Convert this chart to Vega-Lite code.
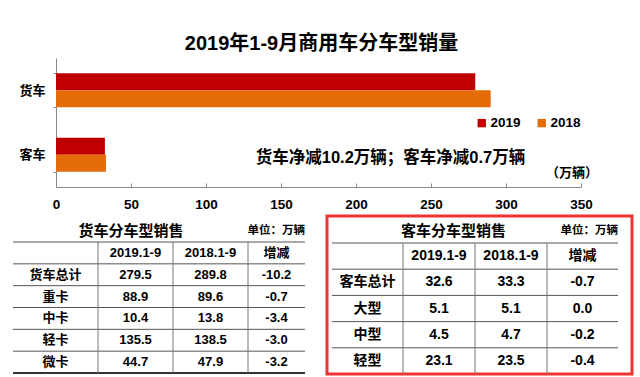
{
  "$schema": "https://vega.github.io/schema/vega-lite/v6.json",
  "background": "white",
  "padding": {"left": 0, "top": 34, "right": 0, "bottom": 0},
  "config": {"view": {"stroke": null}},
  "datasets": {
    "bars": [
      {"type": "货车", "year": "2019", "value": 279.5},
      {"type": "货车", "year": "2018", "value": 289.8},
      {"type": "客车", "year": "2019", "value": 32.6},
      {"type": "客车", "year": "2018", "value": 33.3}
    ],
    "leftCells": [
      {"r": 0, "c": 1, "t": "2019.1-9"}, {"r": 0, "c": 2, "t": "2018.1-9"}, {"r": 0, "c": 3, "t": "增减"},
      {"r": 1, "c": 0, "t": "货车总计"}, {"r": 1, "c": 1, "t": "279.5"}, {"r": 1, "c": 2, "t": "289.8"}, {"r": 1, "c": 3, "t": "-10.2"},
      {"r": 2, "c": 0, "t": "重卡"}, {"r": 2, "c": 1, "t": "88.9"}, {"r": 2, "c": 2, "t": "89.6"}, {"r": 2, "c": 3, "t": "-0.7"},
      {"r": 3, "c": 0, "t": "中卡"}, {"r": 3, "c": 1, "t": "10.4"}, {"r": 3, "c": 2, "t": "13.8"}, {"r": 3, "c": 3, "t": "-3.4"},
      {"r": 4, "c": 0, "t": "轻卡"}, {"r": 4, "c": 1, "t": "135.5"}, {"r": 4, "c": 2, "t": "138.5"}, {"r": 4, "c": 3, "t": "-3.0"},
      {"r": 5, "c": 0, "t": "微卡"}, {"r": 5, "c": 1, "t": "44.7"}, {"r": 5, "c": 2, "t": "47.9"}, {"r": 5, "c": 3, "t": "-3.2"}
    ],
    "rightCells": [
      {"r": 0, "c": 1, "t": "2019.1-9"}, {"r": 0, "c": 2, "t": "2018.1-9"}, {"r": 0, "c": 3, "t": "增减"},
      {"r": 1, "c": 0, "t": "客车总计"}, {"r": 1, "c": 1, "t": "32.6"}, {"r": 1, "c": 2, "t": "33.3"}, {"r": 1, "c": 3, "t": "-0.7"},
      {"r": 2, "c": 0, "t": "大型"}, {"r": 2, "c": 1, "t": "5.1"}, {"r": 2, "c": 2, "t": "5.1"}, {"r": 2, "c": 3, "t": "0.0"},
      {"r": 3, "c": 0, "t": "中型"}, {"r": 3, "c": 1, "t": "4.5"}, {"r": 3, "c": 2, "t": "4.7"}, {"r": 3, "c": 3, "t": "-0.2"},
      {"r": 4, "c": 0, "t": "轻型"}, {"r": 4, "c": 1, "t": "23.1"}, {"r": 4, "c": 2, "t": "23.5"}, {"r": 4, "c": 3, "t": "-0.4"}
    ],
    "leftRowLines": [{"b": -0.5}, {"b": 0.5}, {"b": 1.5}, {"b": 2.5}, {"b": 3.5}, {"b": 4.5}],
    "rightRowLines": [{"b": -0.5}, {"b": 0.5}, {"b": 1.5}, {"b": 2.5}, {"b": 3.5}],
    "colLines": [{"b": 0.5}, {"b": 1.5}, {"b": 2.5}]
  },
  "spacing": 3,
  "vconcat": [
    {
      "width": 525,
      "height": 129,
      "title": {"text": "2019年1-9月商用车分车型销量", "font": "Liberation Sans, Noto Sans CJK SC", "fontSize": 20, "fontWeight": "bold", "color": "#000", "anchor": "middle", "offset": -2, "dx": 3},
      "layer": [
        {
          "data": {"name": "bars"},
          "mark": {"type": "bar"},
          "encoding": {
            "y": {"field": "type", "type": "nominal", "sort": ["货车", "客车"],
              "scale": {"paddingInner": 0.47, "paddingOuter": 0.235},
              "axis": {"title": null, "labelFont": "Noto Sans CJK SC", "labelFontSize": 13, "labelFontWeight": "bold", "labelColor": "#000", "tickBand": "extent", "tickSize": 3, "tickColor": "#888", "domainColor": "#888", "labelPadding": 8, "minExtent": 56, "maxExtent": 56}},
            "yOffset": {"field": "year", "type": "nominal", "sort": ["2019", "2018"], "scale": {"paddingInner": 0, "paddingOuter": 0}},
            "x": {"field": "value", "type": "quantitative",
              "scale": {"domain": [0, 350], "nice": false},
              "axis": {"title": null, "values": [0, 50, 100, 150, 200, 250, 300, 350], "grid": false, "labelFont": "Liberation Sans", "labelFontSize": 13.5, "labelFontWeight": "bold", "labelColor": "#000", "tickSize": -4, "tickColor": "#888", "domainColor": "#888", "labelPadding": 14, "labelFlush": false, "minExtent": 24, "maxExtent": 24}},
            "color": {"field": "year", "type": "nominal",
              "scale": {"domain": ["2019", "2018"], "range": ["#C00000", "#E46C0A"]},
              "legend": {"orient": "none", "legendX": 419, "legendY": 58, "direction": "horizontal", "title": null, "symbolType": "square", "symbolSize": 70, "symbolStrokeWidth": 0, "labelFont": "Liberation Sans", "labelFontSize": 13.5, "labelFontWeight": "bold", "labelColor": "#000", "columnPadding": 14, "labelOffset": 2}}
          }
        },
        {
          "data": {"values": [{}]},
          "mark": {"type": "text", "font": "Liberation Sans, Noto Sans CJK SC", "fontSize": 16.5, "fontWeight": "bold", "color": "#000", "dy": 3},
          "encoding": {"x": {"datum": 223, "type": "quantitative"}, "y": {"datum": "客车", "type": "nominal"}, "text": {"value": "货车净减10.2万辆；客车净减0.7万辆"}}
        },
        {
          "data": {"values": [{}]},
          "mark": {"type": "text", "font": "Noto Sans CJK SC", "fontSize": 13, "fontWeight": "bold", "color": "#000", "dy": 18},
          "encoding": {"x": {"datum": 344, "type": "quantitative"}, "y": {"datum": "客车", "type": "nominal"}, "text": {"value": "（万辆）"}}
        }
      ]
    },
    {
      "spacing": 12,
      "bounds": "flush",
      "hconcat": [
        {
          "width": 259,
          "height": 158,
          "layer": [
            {
              "data": {"name": "leftCells"},
              "mark": {"type": "text", "font": "Liberation Sans, Noto Sans CJK SC", "fontSize": 13, "fontWeight": "bold", "color": "#000"},
              "encoding": {
                "x": {"field": "c", "type": "quantitative", "scale": {"domain": [-0.5, 0.5, 1.5, 2.5, 3.5], "range": [-43, 42, 117, 192, 249], "nice": false, "zero": false}, "axis": null},
                "y": {"field": "r", "type": "quantitative", "scale": {"domain": [-0.5, 5.5], "range": [26, 157], "nice": false, "zero": false}, "axis": null},
                "text": {"field": "t"}
              }
            },
            {
              "data": {"name": "leftRowLines"},
              "mark": {"type": "rule", "color": "#555", "strokeWidth": 1},
              "encoding": {"y": {"field": "b", "type": "quantitative"}, "x": {"datum": -0.5, "type": "quantitative"}, "x2": {"datum": 3.5}}
            },
            {
              "data": {"values": [{}]},
              "mark": {"type": "rule", "color": "#333", "strokeWidth": 2},
              "encoding": {"y": {"datum": 5.5, "type": "quantitative"}, "x": {"datum": -0.5, "type": "quantitative"}, "x2": {"datum": 3.5}}
            },
            {
              "data": {"name": "colLines"},
              "mark": {"type": "rule", "color": "#777", "strokeWidth": 1},
              "encoding": {"x": {"field": "b", "type": "quantitative"}, "y": {"datum": -0.5, "type": "quantitative"}, "y2": {"datum": 5.5}}
            },
            {
              "data": {"values": [{}]},
              "mark": {"type": "text", "font": "Noto Sans CJK SC", "fontSize": 15, "fontWeight": "bold", "color": "#000", "dy": 0},
              "encoding": {"x": {"datum": 0.94, "type": "quantitative"}, "y": {"datum": -1, "type": "quantitative"}, "text": {"value": "货车分车型销售"}}
            },
            {
              "data": {"values": [{}]},
              "mark": {"type": "text", "font": "Noto Sans CJK SC", "fontSize": 11.5, "fontWeight": "bold", "color": "#000", "align": "right", "dy": 0},
              "encoding": {"x": {"datum": 3.5, "type": "quantitative"}, "y": {"datum": -1, "type": "quantitative"}, "text": {"value": "单位：万辆"}}
            }
          ]
        },
        {
          "width": 305,
          "height": 158,
          "view": {"stroke": "#EE3333", "strokeWidth": 3},
          "layer": [
            {
              "data": {"name": "rightCells"},
              "mark": {"type": "text", "font": "Liberation Sans, Noto Sans CJK SC", "fontSize": 14, "fontWeight": "bold", "color": "#000"},
              "encoding": {
                "x": {"field": "c", "type": "quantitative", "scale": {"domain": [-0.5, 0.5, 1.5, 2.5, 3.5], "range": [5, 76, 148, 220, 291], "nice": false, "zero": false}, "axis": null},
                "y": {"field": "r", "type": "quantitative", "scale": {"domain": [-0.5, 4.5], "range": [27, 158], "nice": false, "zero": false}, "axis": null},
                "text": {"field": "t"}
              }
            },
            {
              "data": {"name": "rightRowLines"},
              "mark": {"type": "rule", "color": "#555", "strokeWidth": 1},
              "encoding": {"y": {"field": "b", "type": "quantitative"}, "x": {"datum": -0.5, "type": "quantitative"}, "x2": {"datum": 3.5}}
            },
            {
              "data": {"name": "colLines"},
              "mark": {"type": "rule", "color": "#777", "strokeWidth": 1},
              "encoding": {"x": {"field": "b", "type": "quantitative"}, "y": {"datum": -0.5, "type": "quantitative"}, "y2": {"datum": 4.5}}
            },
            {
              "data": {"values": [{}]},
              "mark": {"type": "text", "font": "Noto Sans CJK SC", "fontSize": 15, "fontWeight": "bold", "color": "#000", "dy": 1},
              "encoding": {"x": {"datum": 1.2, "type": "quantitative"}, "y": {"datum": -1, "type": "quantitative"}, "text": {"value": "客车分车型销售"}}
            },
            {
              "data": {"values": [{}]},
              "mark": {"type": "text", "font": "Noto Sans CJK SC", "fontSize": 11.5, "fontWeight": "bold", "color": "#000", "align": "right", "dy": 1},
              "encoding": {"x": {"datum": 3.5, "type": "quantitative"}, "y": {"datum": -1, "type": "quantitative"}, "text": {"value": "单位：万辆"}}
            }
          ]
        }
      ]
    }
  ]
}
